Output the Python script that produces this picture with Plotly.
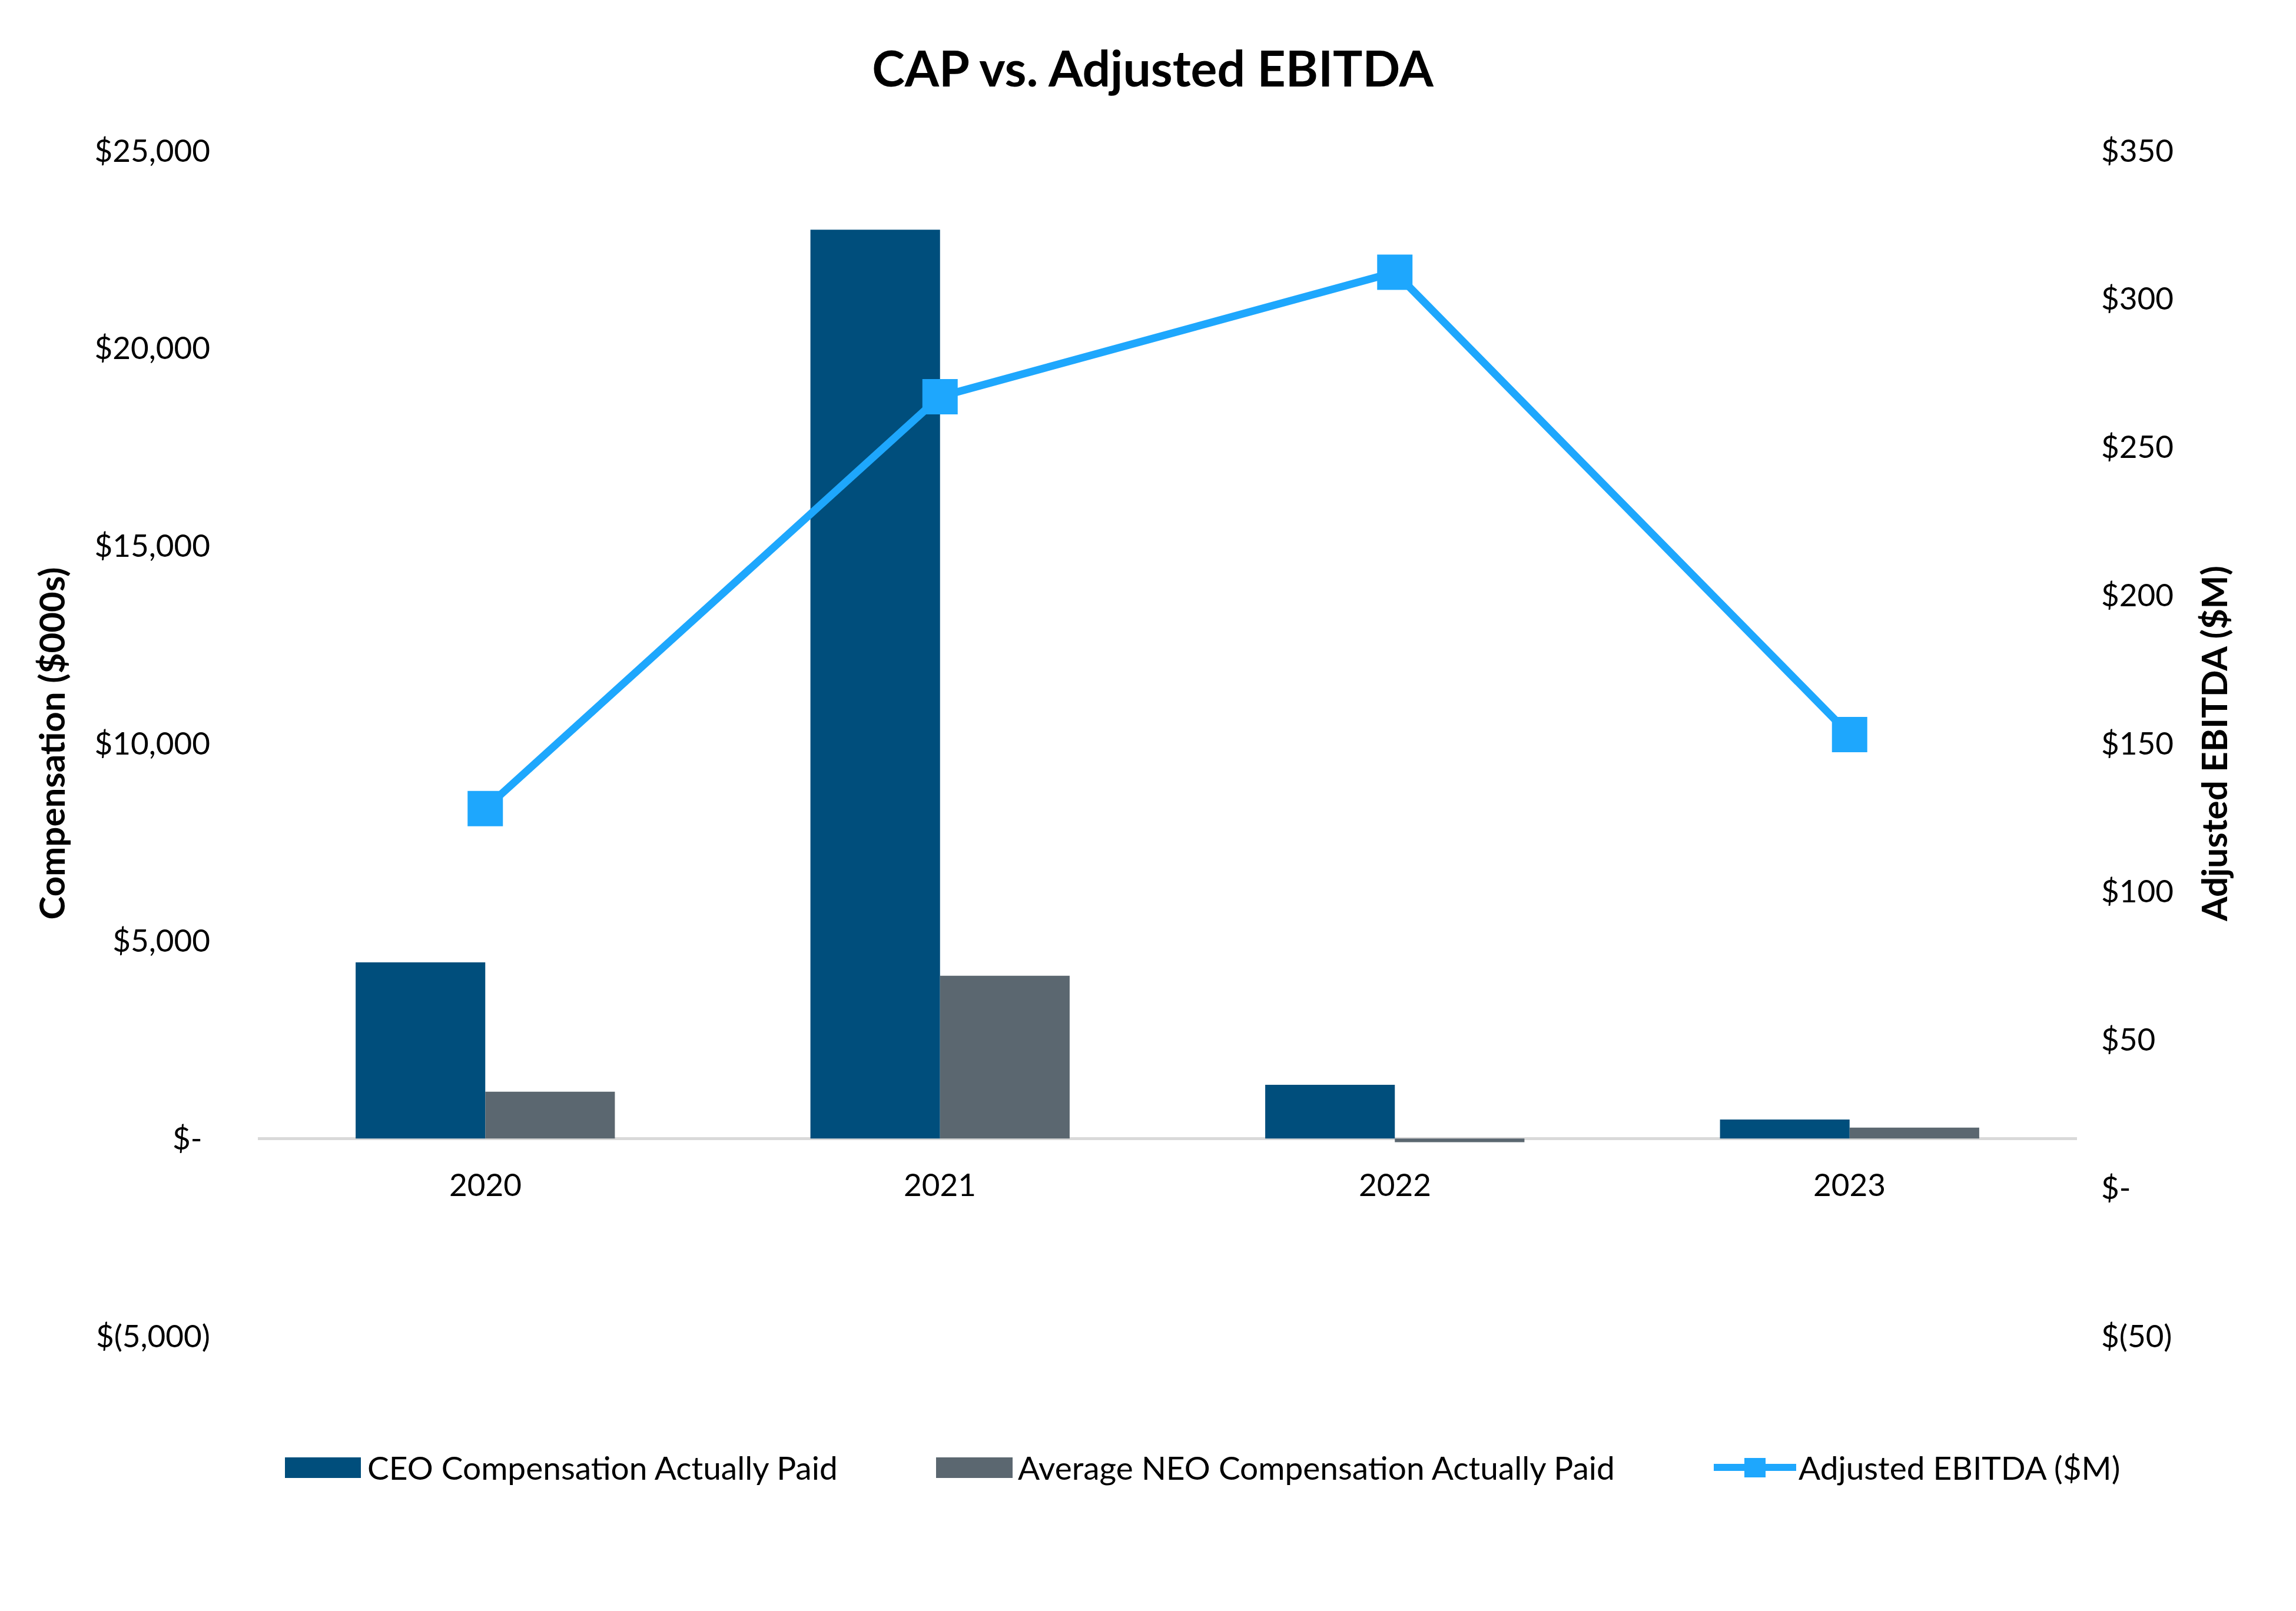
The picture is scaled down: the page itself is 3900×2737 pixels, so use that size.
import plotly.graph_objects as go

# ---------------- data ----------------
years = ["2020", "2021", "2022", "2023"]
ceo_cap = [4460, 23000, 1360, 480]          # $000s
neo_cap = [1185, 4120, -90, 275]            # $000s
adj_ebitda = [128, 267, 309, 153]           # $M

series_names = [
    "CEO Compensation Actually Paid",
    "Average NEO Compensation Actually Paid",
    "Adjusted EBITDA ($M)",
]

left_tickvals = [-5000, 0, 5000, 10000, 15000, 20000, 25000]
left_ticktext = ["$(5,000)", "$-\u00a0", "$5,000", "$10,000", "$15,000", "$20,000", "$25,000"]
right_tickvals = [-50, 0, 50, 100, 150, 200, 250, 300, 350]
right_ticktext = ["$(50)", "$-", "$50", "$100", "$150", "$200", "$250", "$300", "$350"]

# ---------------- style ----------------
W, H = 3900, 2737
ML, MR, MT, MB = 430, 380, 248, 475
FONT = "Lato, 'Open Sans', sans-serif"
C_CEO = "#004E7C"
C_NEO = "#5B6770"
C_LINE = "#1EA7FD"
TXT = "#000000"
TICK_SIZE = 53
LEG_SIZE = 55

fig = go.Figure()
fig.add_trace(go.Bar(x=years, y=ceo_cap, name=series_names[0], marker_color=C_CEO,
                     marker_line_width=0, yaxis="y", showlegend=False))
fig.add_trace(go.Bar(x=years, y=neo_cap, name=series_names[1], marker_color=C_NEO,
                     marker_line_width=0, yaxis="y", showlegend=False))
fig.add_trace(go.Scatter(x=years, y=adj_ebitda, name=series_names[2], mode="lines+markers",
                         line=dict(color=C_LINE, width=13),
                         marker=dict(symbol="square", size=60, color=C_LINE),
                         yaxis="y2", showlegend=False))

# year labels sitting under the zero line (category index positions)
annotations = []
for i, yr in enumerate(years):
    annotations.append(dict(x=i, y=0, xref="x", yref="y", text=yr, showarrow=False,
                            yanchor="middle", yshift=-77,
                            font=dict(family=FONT, size=TICK_SIZE, color=TXT)))

# custom legend (pixel -> paper helpers)
PW = W - ML - MR
PH = H - MT - MB
def px(xp):
    return (xp - ML) / PW
def py(yp):
    return (H - MB - yp) / PH

shapes = []
leg_y0, leg_y1, leg_yc = 2503, 2468, 2485
# CEO swatch
shapes.append(dict(type="rect", xref="paper", yref="paper", x0=px(476), x1=px(605),
                   y0=py(leg_y0), y1=py(leg_y1), fillcolor=C_CEO, line_width=0))
annotations.append(dict(x=px(614), y=py(leg_yc), xref="paper", yref="paper", text=series_names[0],
                        showarrow=False, xanchor="left", yanchor="middle",
                        font=dict(family=FONT, size=LEG_SIZE, color=TXT)))
# NEO swatch
shapes.append(dict(type="rect", xref="paper", yref="paper", x0=px(1582), x1=px(1712),
                   y0=py(leg_y0), y1=py(leg_y1), fillcolor=C_NEO, line_width=0))
annotations.append(dict(x=px(1719), y=py(leg_yc), xref="paper", yref="paper", text=series_names[1],
                        showarrow=False, xanchor="left", yanchor="middle",
                        font=dict(family=FONT, size=LEG_SIZE, color=TXT)))
# Line swatch
shapes.append(dict(type="line", xref="paper", yref="paper", x0=px(2903), x1=px(3043),
                   y0=py(leg_yc), y1=py(leg_yc), line=dict(color=C_LINE, width=12)))
shapes.append(dict(type="rect", xref="paper", yref="paper", x0=px(2955), x1=px(2991),
                   y0=py(leg_y0 - 1), y1=py(leg_y1 + 1), fillcolor=C_LINE, line_width=0))
annotations.append(dict(x=px(3045), y=py(leg_yc), xref="paper", yref="paper", text=series_names[2],
                        showarrow=False, xanchor="left", yanchor="middle",
                        font=dict(family=FONT, size=LEG_SIZE, color=TXT)))

fig.update_layout(
    width=W, height=H,
    margin=dict(l=ML, r=MR, t=MT, b=MB),
    paper_bgcolor="white", plot_bgcolor="white",
    barmode="group", bargap=0.43, bargroupgap=0,
    font=dict(family=FONT, size=TICK_SIZE, color=TXT),
    title=dict(text="<b>CAP vs. Adjusted EBITDA</b>", x=0.5, xref="container",
               y=1 - 110 / H, yref="container", xanchor="center", yanchor="middle",
               font=dict(family=FONT, size=84, color=TXT)),
    xaxis=dict(type="category", range=[-0.5, len(years) - 0.5], showticklabels=False,
               showgrid=False, showline=False, ticks="", zeroline=False),
    yaxis=dict(range=[-5000, 25000], tickvals=left_tickvals, ticktext=left_ticktext,
               showgrid=False, showline=False, ticks="", ticklabelstandoff=80,
               zeroline=True, zerolinecolor="#D9D9D9", zerolinewidth=5,
               tickfont=dict(family=FONT, size=TICK_SIZE, color=TXT),
               title=dict(text="<b>Compensation ($000s)</b>", standoff=30,
                          font=dict(family=FONT, size=60, color=TXT))),
    yaxis2=dict(range=[-50, 350], tickvals=right_tickvals, ticktext=right_ticktext,
                overlaying="y", side="right", showgrid=False, showline=False, ticks="",
                ticklabelstandoff=40, zeroline=False,
                tickfont=dict(family=FONT, size=TICK_SIZE, color=TXT),
                title=dict(text="<b>Adjusted EBITDA ($M)</b>", standoff=50,
                           font=dict(family=FONT, size=60, color=TXT))),
    shapes=shapes,
    annotations=annotations,
)

fig.write_html("out.html")
